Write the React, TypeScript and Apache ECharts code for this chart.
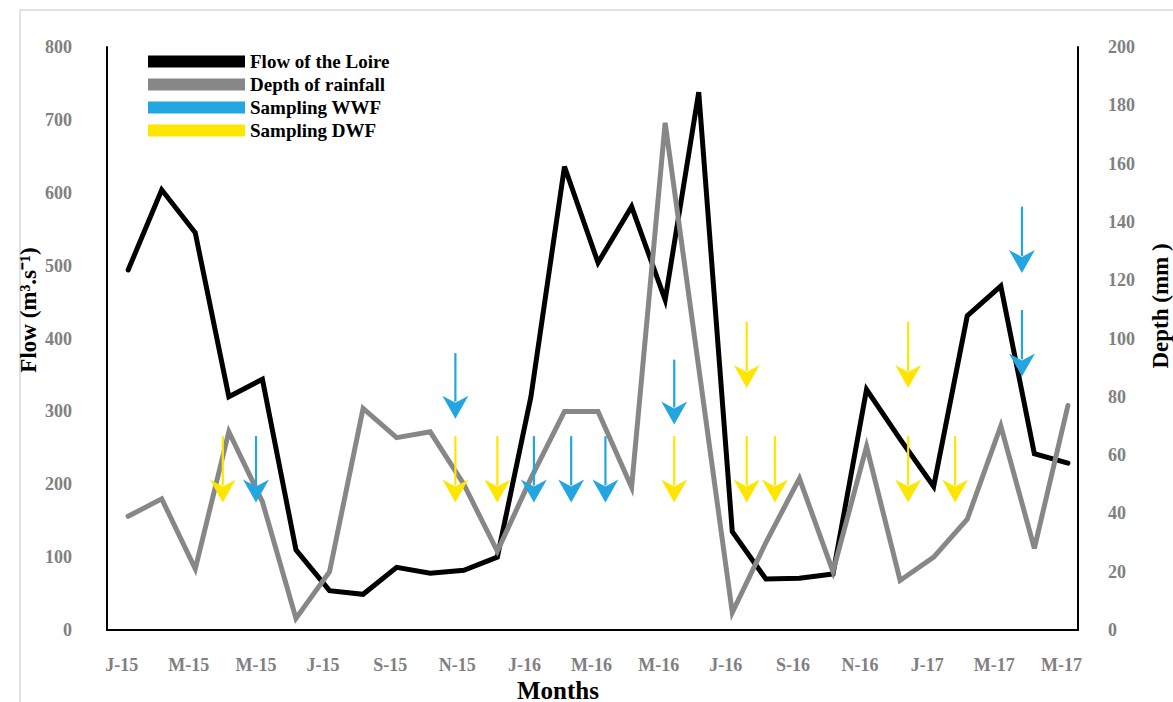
import React, { useEffect, useRef } from 'react';
import * as echarts from 'echarts';

// Monthly values, Jan 2015 .. May 2017 (29 months)
const flowLoire = [494, 604, 545, 320, 344, 110, 54, 49, 86, 78, 82, 100, 320, 636, 504, 581, 453, 738, 135, 70, 71, 77, 330, 262, 197, 431, 472, 242, 229];
const rainDepth = [39, 45, 21, 68, 44, 4, 20, 76, 66, 68, 50, 27, 52, 75, 75, 49, 174, 90, 6, 30, 52, 20, 63, 17, 25, 38, 70, 28, 77];

// x tick labels, one every two months (month index 0, 2, 4, ...)
const tickLabels = ['J-15', 'M-15', 'M-15', 'J-15', 'S-15', 'N-15', 'J-16', 'M-16', 'M-16', 'J-16', 'S-16', 'N-16', 'J-17', 'M-17', 'M-17'];
const tickMonths = [0, 2, 4, 6, 8, 10, 12, 14, 16, 18, 20, 22, 24, 26, 28];

// Sampling arrows: [month index, arrow top (flow units), arrow tip (flow units)]
const wwfArrows = [
  [3.81, 266, 175],
  [9.75, 380, 290],
  [12.09, 266, 175],
  [13.2, 266, 175],
  [14.22, 266, 175],
  [16.27, 371, 282],
  [26.63, 581, 490],
  [26.63, 439, 348],
];
const dwfArrows = [
  [2.82, 266, 175],
  [9.75, 266, 175],
  [11.0, 266, 175],
  [16.27, 266, 175],
  [18.43, 423, 332],
  [18.43, 266, 175],
  [19.27, 266, 175],
  [23.24, 423, 332],
  [23.24, 266, 175],
  [24.64, 266, 175],
];

const FONT = "'Liberation Serif', 'Times New Roman', serif";
const BLUE = '#22A5E0';
const YELLOW = '#FFE600';
const GREY = '#878787';

function arrowRenderer(color: string) {
  return (params: any, api: any) => {
    const x = api.value(0);
    const top = api.coord([x, api.value(1)]);
    const tip = api.coord([x, api.value(2)]);
    const headL = 23;
    const headW = 13;
    return {
      type: 'group',
      children: [
        {
          type: 'line',
          shape: { x1: top[0], y1: top[1], x2: tip[0], y2: tip[1] - headL + 6 },
          style: { stroke: color, lineWidth: 2.2 },
        },
        {
          type: 'polygon',
          shape: {
            points: [
              [tip[0] - headW, tip[1] - headL],
              [tip[0], tip[1] - headL + 7],
              [tip[0] + headW, tip[1] - headL],
              [tip[0], tip[1]],
            ],
          },
          style: { fill: color },
        },
      ],
    };
  };
}

export default function App() {
  const ref = useRef<HTMLDivElement>(null);
  useEffect(() => {
    if (!ref.current) return;
    const chart = echarts.init(ref.current, null, { renderer: 'svg' });
    const labelFor = (v: number) => {
      let best = 0;
      for (let i = 1; i < tickMonths.length; i++) {
        if (Math.abs(tickMonths[i] - v) < Math.abs(tickMonths[best] - v)) best = i;
      }
      return tickLabels[best];
    };
    const option: any = {
      animation: false,
      backgroundColor: '#ffffff',
      grid: { left: 107, right: 95, top: 47, bottom: 72, containLabel: false },
      legend: {
        orient: 'vertical',
        left: 148,
        top: 52,
        padding: 0,
        icon: 'rect',
        itemWidth: 97,
        itemHeight: 12,
        itemGap: 4,
        textStyle: { fontFamily: FONT, fontWeight: 'bold', fontSize: 19, color: '#000' },
        data: ['Flow of the Loire', 'Depth of rainfall', 'Sampling WWF', 'Sampling DWF'],
      },
      xAxis: {
        type: 'value',
        min: -0.63,
        max: 28.3,
        splitLine: { show: false },
        axisTick: { show: false },
        axisLine: { show: true, onZero: false, lineStyle: { color: '#000', width: 2 } },
        axisLabel: {
          customValues: tickMonths,
          formatter: (v: number) => labelFor(v),
          margin: 26,
          padding: [0, 13, 0, 0],
          fontFamily: FONT,
          fontWeight: 'bold',
          fontSize: 18,
          color: '#808080',
          showMinLabel: true,
          showMaxLabel: true,
        },
      },
      yAxis: [
        {
          type: 'value',
          min: 0,
          max: 800,
          interval: 100,
          splitLine: { show: false },
          axisTick: { show: false },
          axisLine: { show: true, onZero: false, lineStyle: { color: '#000', width: 2 } },
          axisLabel: { margin: 35, fontFamily: FONT, fontWeight: 'bold', fontSize: 18, color: '#808080' },
        },
        {
          type: 'value',
          position: 'right',
          min: 0,
          max: 200,
          interval: 20,
          splitLine: { show: false },
          axisTick: { show: false },
          axisLine: { show: true, onZero: false, lineStyle: { color: '#000', width: 2 } },
          axisLabel: { margin: 30, fontFamily: FONT, fontWeight: 'bold', fontSize: 18, color: '#808080' },
        },
      ],
      graphic: [
        { type: 'line', silent: true, shape: { x1: 20, y1: 10, x2: 1173, y2: 10 }, style: { stroke: '#d9d9d9', lineWidth: 1.5 } },
        { type: 'line', silent: true, shape: { x1: 20, y1: 10, x2: 20, y2: 702 }, style: { stroke: '#d9d9d9', lineWidth: 1.5 } },
        {
          type: 'text',
          x: 28,
          y: 310,
          rotation: Math.PI / 2,
          style: {
            text: 'Flow (m³.s⁻¹)',
            fill: '#000',
            font: `bold 23px ${FONT}`,
            textAlign: 'center',
            textVerticalAlign: 'middle',
            align: 'center',
            verticalAlign: 'middle',
          },
        },
        {
          type: 'text',
          x: 1160,
          y: 306,
          rotation: Math.PI / 2,
          style: {
            text: 'Depth (mm )',
            fill: '#000',
            font: `bold 23px ${FONT}`,
            textAlign: 'center',
            textVerticalAlign: 'middle',
            align: 'center',
            verticalAlign: 'middle',
          },
        },
        {
          type: 'text',
          x: 558,
          y: 690,
          style: {
            text: 'Months',
            fill: '#000',
            font: `bold 25px ${FONT}`,
            textAlign: 'center',
            textVerticalAlign: 'middle',
            align: 'center',
            verticalAlign: 'middle',
          },
        },
      ],
      series: [
        {
          name: 'Flow of the Loire',
          type: 'line',
          yAxisIndex: 0,
          data: flowLoire.map((v, i) => [i, v]),
          showSymbol: false,
          symbol: 'none',
          itemStyle: { color: '#000' },
          lineStyle: { color: '#000', width: 5, join: 'miter', cap: 'round' },
          z: 2,
        },
        {
          name: 'Depth of rainfall',
          type: 'line',
          yAxisIndex: 1,
          data: rainDepth.map((v, i) => [i, v]),
          showSymbol: false,
          symbol: 'none',
          itemStyle: { color: GREY },
          lineStyle: { color: GREY, width: 5, join: 'miter', cap: 'round' },
          z: 3,
        },
        {
          name: 'Sampling WWF',
          type: 'custom',
          yAxisIndex: 0,
          itemStyle: { color: BLUE },
          renderItem: arrowRenderer(BLUE),
          encode: { x: 0, y: [1, 2] },
          data: wwfArrows,
          z: 4,
        },
        {
          name: 'Sampling DWF',
          type: 'custom',
          yAxisIndex: 0,
          itemStyle: { color: YELLOW },
          renderItem: arrowRenderer(YELLOW),
          encode: { x: 0, y: [1, 2] },
          data: dwfArrows,
          z: 4,
        },
      ],
    };
    chart.setOption(option);
    return () => chart.dispose();
  }, []);
  return (
    <div
      ref={ref}
      style={{ position: 'fixed', left: 0, top: 0, width: 1173, height: 702, background: '#fff' }}
    />
  );
}
